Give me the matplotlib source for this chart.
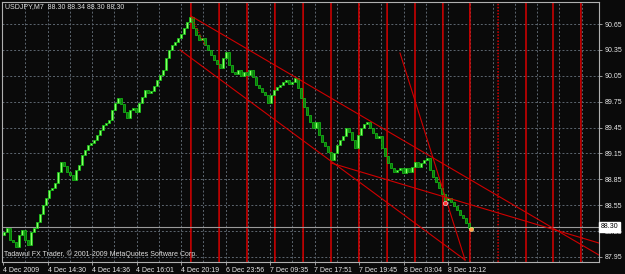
import matplotlib
matplotlib.use("Agg")
import matplotlib.pyplot as plt
import matplotlib.transforms as mtransforms
import numpy as np

# ---------------- data ----------------
symbol_header = "USDJPY,M7  88.30 88.34 88.30 88.30"
copyright_text = "Tadawul FX Trader, \u00a9 2001-2009 MetaQuotes Software Corp."

first_open = 88.20
closes = [
    88.24, 88.29, 88.15, 88.12, 88.07, 88.21, 88.26, 88.15, 88.09, 88.24,
    88.29, 88.36, 88.45, 88.55, 88.63, 88.73, 88.75, 88.81, 88.94, 89.05,
    89.00, 88.94, 88.90, 88.84, 88.96, 89.02, 89.13, 89.19, 89.25, 89.27,
    89.31, 89.36, 89.42, 89.48, 89.50, 89.54, 89.65, 89.73, 89.79, 89.72,
    89.63, 89.56, 89.65, 89.68, 89.63, 89.73, 89.80, 89.89, 89.85, 89.87,
    89.93, 90.00, 90.06, 90.12, 90.26, 90.35, 90.41, 90.44, 90.49, 90.53,
    90.60, 90.67, 90.73, 90.60, 90.52, 90.46, 90.49, 90.41, 90.35, 90.29,
    90.23, 90.19, 90.14, 90.26, 90.33, 90.17, 90.09, 90.07, 90.12, 90.05,
    90.09, 90.06, 90.12, 90.04, 89.94, 89.91, 89.86, 89.83, 89.73, 89.83,
    89.89, 89.92, 89.94, 89.98, 90.00, 89.95, 89.98, 90.02, 89.91, 89.79,
    89.69, 89.60, 89.51, 89.45, 89.51, 89.36, 89.28, 89.24, 89.17, 89.07,
    89.15, 89.25, 89.31, 89.35, 89.45, 89.40, 89.31, 89.21, 89.36, 89.45,
    89.49, 89.51, 89.45, 89.39, 89.33, 89.35, 89.21, 89.12, 89.04, 88.98,
    88.94, 88.96, 88.98, 88.92, 88.98, 88.94, 88.99, 89.05, 88.99, 89.04,
    89.07, 89.10, 88.96, 88.88, 88.82, 88.75, 88.68, 88.61, 88.63, 88.59,
    88.54, 88.50, 88.44, 88.40, 88.34, 88.29, 88.30,
]

time_labels = ["4 Dec 2009", "4 Dec 14:30", "4 Dec 14:36", "4 Dec 16:01",
               "4 Dec 20:19", "6 Dec 23:56", "7 Dec 09:35", "7 Dec 17:51",
               "7 Dec 19:45", "8 Dec 03:04", "8 Dec 12:12"]
price_ticks = [87.95, 88.25, 88.55, 88.85, 89.15, 89.45, 89.75, 90.05, 90.35, 90.65]
bid_price = 88.30

# vertical marker lines (bar-index units) and whether dotted
vline_bars = [62.3, 71.7, 81.0, 90.3, 99.7, 109.0, 118.3, 127.7, 137.0,
              146.3, 155.3, 164.7, 174.0, 183.0, 192.3]
vline_dotted = [False] * 11 + [True] + [False] * 3

# trend lines: (bar0, price0, bar1, price1)
trend_lines = [
    (62.3, 90.743, 198.3, 87.973),
    (58.7, 90.349, 153.7, 87.915),
    (109.0, 89.039, 198.3, 88.112),
    (132.0, 90.314, 153.7, 87.915),
]
dotted_line = (62.3, 90.743, 67.0, 90.407)

# ---------------- figure ----------------
W, H = 625, 274
BG = "#0a0a0a"
fig = plt.figure(figsize=(W / 100, H / 100), dpi=100, facecolor=BG)
ax = fig.add_axes([2 / W, 12 / H, 597 / W, 260 / H])
ax.set_facecolor(BG)

n = len(closes)
idx = np.arange(n)
c = np.array(closes)
o = np.concatenate([[first_open], c[:-1]])
up = c >= o

px_per_bar = 3.0
x0_px = 4.0
ax.set_xlim((2 - x0_px) / px_per_bar, (599 - x0_px) / px_per_bar)
ax.set_ylim(87.892, 90.905)

# grid
grid_col = "#5d6670"
tick_pos = [(-1 + 44.5 * k) / px_per_bar for k in range(len(time_labels))]
for k in range(1, 27):
    gx = (-1 + 22.25 * k) / px_per_bar
    ax.axvline(gx, color=grid_col, lw=0.7, ls=(0, (2, 2)), zorder=1)
for p in price_ticks:
    ax.axhline(p, color=grid_col, lw=0.7, ls=(0, (2, 2)), zorder=1)

# red vertical lines
for vx, dot in zip(vline_bars, vline_dotted):
    ax.axvline(vx, color="#d80000", lw=1.1, ls=(0, (1, 1)) if dot else "-",
               zorder=2, snap=False)

# bid line
ax.axhline(bid_price, color="#9a9a9a", lw=0.8, zorder=2)

# candles
body = np.where(np.abs(c - o) < 0.008, 0.008, np.abs(c - o))
bottoms = np.minimum(o, c)
ax.bar(idx[up], body[up], bottom=bottoms[up], width=0.8,
       color="#8cff6a", edgecolor="#10d010", linewidth=0.5, zorder=3)
ax.bar(idx[~up], body[~up], bottom=bottoms[~up], width=0.8,
       color="#0a7a0a", edgecolor="#18c818", linewidth=0.5, zorder=3)

# trend lines
for (a0, p0, a1, p1) in trend_lines:
    ax.plot([a0, a1], [p0, p1], color="#d00000", lw=0.8, zorder=4)
ax.plot([dotted_line[0], dotted_line[2]], [dotted_line[1], dotted_line[3]],
        color="#d00000", lw=0.8, ls=(0, (1, 1)), zorder=4)

# small markers near the end
ax.plot([147], [88.58], marker="o", ms=3, color="#ff3030", mec="white", mew=0.4, zorder=5)
ax.plot([155.7], [88.27], marker="o", ms=3, color="#ffa040", mec="#ffe0a0", mew=0.4, zorder=5)

# axes styling
for s in ax.spines.values():
    s.set_color("#b0b0b0")
    s.set_linewidth(0.8)

fs = 5
fam = ["Liberation Sans", "DejaVu Sans"]
ax.yaxis.tick_right()
ax.set_yticks(price_ticks)
ax.set_yticklabels([f"{p:.2f}" for p in price_ticks], fontsize=fs, color="#e8e8e8", family=fam)
ax.tick_params(axis="y", length=2, width=0.6, color="#b0b0b0", pad=2)

ax.set_xticks(tick_pos)
ax.set_xticklabels(time_labels, fontsize=fs, color="#e8e8e8", family=fam, ha="left")
ax.tick_params(axis="x", length=2.5, width=0.6, color="#b0b0b0", pad=1.2)

# bid price box
trans = mtransforms.blended_transform_factory(ax.transAxes, ax.transData)
ax.text(1.003, bid_price, f"{bid_price:.2f}", transform=trans, fontsize=fs,
        color="black", family=fam, ha="left", va="center", zorder=10,
        bbox=dict(boxstyle="square,pad=0.2", fc="white", ec="white"), clip_on=False)

# header and copyright
fig.text(5 / W, 1 - 7 / H, symbol_header, fontsize=fs, color="#e0e0e0",
         family=fam, ha="left", va="center")
fig.text(4 / W, 1 - 254 / H, copyright_text, fontsize=fs, color="#e0e0e0",
         family=fam, ha="left", va="center")

fig.savefig("out.png", dpi=100, facecolor=BG)
